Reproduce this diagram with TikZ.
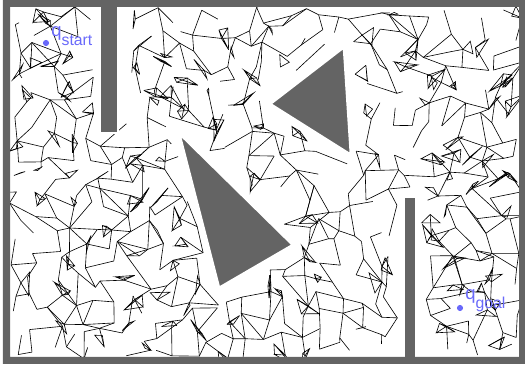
\documentclass[tikz,border=0pt]{standalone}
\usepackage{fontspec}
\setsansfont{Liberation Sans}
\usetikzlibrary{calc}
\definecolor{wallgray}{RGB}{100,100,100}
\definecolor{qblue}{RGB}{105,105,250}
% point-in-triangle test for the scaled point (\ux,\vy)
\newcommand\intri[6]{%
  \pgfmathsetmacro\dA{(\ux-#3)*(#2-#4)-(#1-#3)*(\vy-#4)}%
  \pgfmathsetmacro\dB{(\ux-#5)*(#4-#6)-(#3-#5)*(\vy-#6)}%
  \pgfmathsetmacro\dC{(\ux-#1)*(#6-#2)-(#5-#1)*(\vy-#2)}%
  \pgfmathtruncatemacro\intriresult{(min(\dA,\dB,\dC)>=0)||(max(\dA,\dB,\dC)<=0)}}
\newcommand\blocked[2]{\csname bk-#1-#2\endcsname}

\begin{document}
\begin{tikzpicture}[x=0.02cm, y=-0.02cm,
  edge/.style={line width=0.35pt, black},
  wall/.style={fill=wallgray, draw=white, line width=1.5pt, line join=round},
  qdot/.style={circle, fill=qblue, inner sep=0pt, minimum size=3.5pt},
  qlabel/.style={text=qblue, font=\sffamily\fontsize{10.5}{12}\selectfont, inner sep=0pt, anchor=base west}]
\useasboundingbox (0,0) rectangle (525,367);
\pgfmathsetseed{2024}

% roadmap vertices on a jittered grid, flagged when inside an obstacle
\foreach \i in {0,...,28}{
  \foreach \j in {0,...,19}{
    \pgfmathsetmacro\px{18+\i*17.8+rand*9}
    \pgfmathsetmacro\py{15+\j*17.7+rand*9}
    \coordinate (p-\i-\j) at (\px,\py);
    \pgfmathsetmacro\ux{\px/100}
    \pgfmathsetmacro\vy{\py/100}
    \intri{2.58}{1.04}{3.49}{0.34}{3.57}{1.67}\let\inA\intriresult
    \intri{1.71}{1.18}{3.06}{2.47}{2.15}{2.99}\let\inB\intriresult
    \pgfmathtruncatemacro\blk{min(1,\inA+\inB+(\ux>0.94)*(\ux<1.24)*(\vy<1.40)+(\ux>3.98)*(\ux<4.22)*(\vy>1.90))}
    \expandafter\xdef\csname bk-\i-\j\endcsname{\blk}
  }
}

% roadmap edges
\begin{scope}
\clip (10,7) rectangle (519,357);
\foreach \i in {0,...,28}{
  \foreach \j in {0,...,19}{
    \pgfmathtruncatemacro\ni{\i+1}
    \pgfmathtruncatemacro\nj{\j+1}
    \pgfmathtruncatemacro\pj{\j-1}
    \ifnum\blocked{\i}{\j}=0
      \ifnum\i<28
        \pgfmathtruncatemacro\keep{rnd<0.57}
        \ifnum\numexpr\keep-\blocked{\ni}{\j}\relax=1 \draw[edge] (p-\i-\j) -- (p-\ni-\j);\fi
        \ifnum\j<19
          \pgfmathtruncatemacro\keep{rnd<0.12}
          \ifnum\numexpr\keep-\blocked{\ni}{\nj}\relax=1 \draw[edge] (p-\i-\j) -- (p-\ni-\nj);\fi
        \fi
        \ifnum\j>0
          \pgfmathtruncatemacro\keep{rnd<0.08}
          \ifnum\numexpr\keep-\blocked{\ni}{\pj}\relax=1 \draw[edge] (p-\i-\j) -- (p-\ni-\pj);\fi
        \fi
      \fi
      \ifnum\j<19
        \pgfmathtruncatemacro\keep{rnd<0.57}
        \ifnum\numexpr\keep-\blocked{\i}{\nj}\relax=1 \draw[edge] (p-\i-\j) -- (p-\i-\nj);\fi
      \fi
      % small dense clusters
      \pgfmathtruncatemacro\clus{rnd<0.26}
      \ifnum\clus=1
        \coordinate (a-\i-\j) at ($(p-\i-\j)+(rand*13,rand*13)$);
        \coordinate (b-\i-\j) at ($(p-\i-\j)+(rand*13,rand*13)$);
        \draw[edge] (p-\i-\j) -- (a-\i-\j) -- (b-\i-\j) -- cycle;
        \pgfmathtruncatemacro\quad{rnd<0.5}
        \ifnum\quad=1
          \coordinate (c-\i-\j) at ($(p-\i-\j)+(rand*13,rand*13)$);
          \draw[edge] (a-\i-\j) -- (c-\i-\j) -- (b-\i-\j) (p-\i-\j) -- (c-\i-\j);
        \fi
      \fi
    \fi
  }
}
\end{scope}

% obstacles and outer walls
\filldraw[wall] (100,4) rectangle (118,133);
\filldraw[wall] (404,197) rectangle (416,360);
\filldraw[wall] (270,104) -- (344,47) -- (351,155) -- cycle;
\filldraw[wall] (179,133) -- (293,245) -- (219,288) -- cycle;
\fill[wallgray, even odd rule] (3,0) rectangle (525,364) (10,7) rectangle (519,357);

% start and goal
\node[qdot] (qstart) at (46,43) {};
\node[qlabel] (qstartlabel) at (51,37) {q\raisebox{-5pt}{\fontsize{9}{9}\selectfont start}};
\node[qdot] (qgoal) at (460,308) {};
\node[qlabel] (qgoallabel) at (465,300) {q\raisebox{-5pt}{\fontsize{9}{9}\selectfont goal}};
\end{tikzpicture}
\end{document}
